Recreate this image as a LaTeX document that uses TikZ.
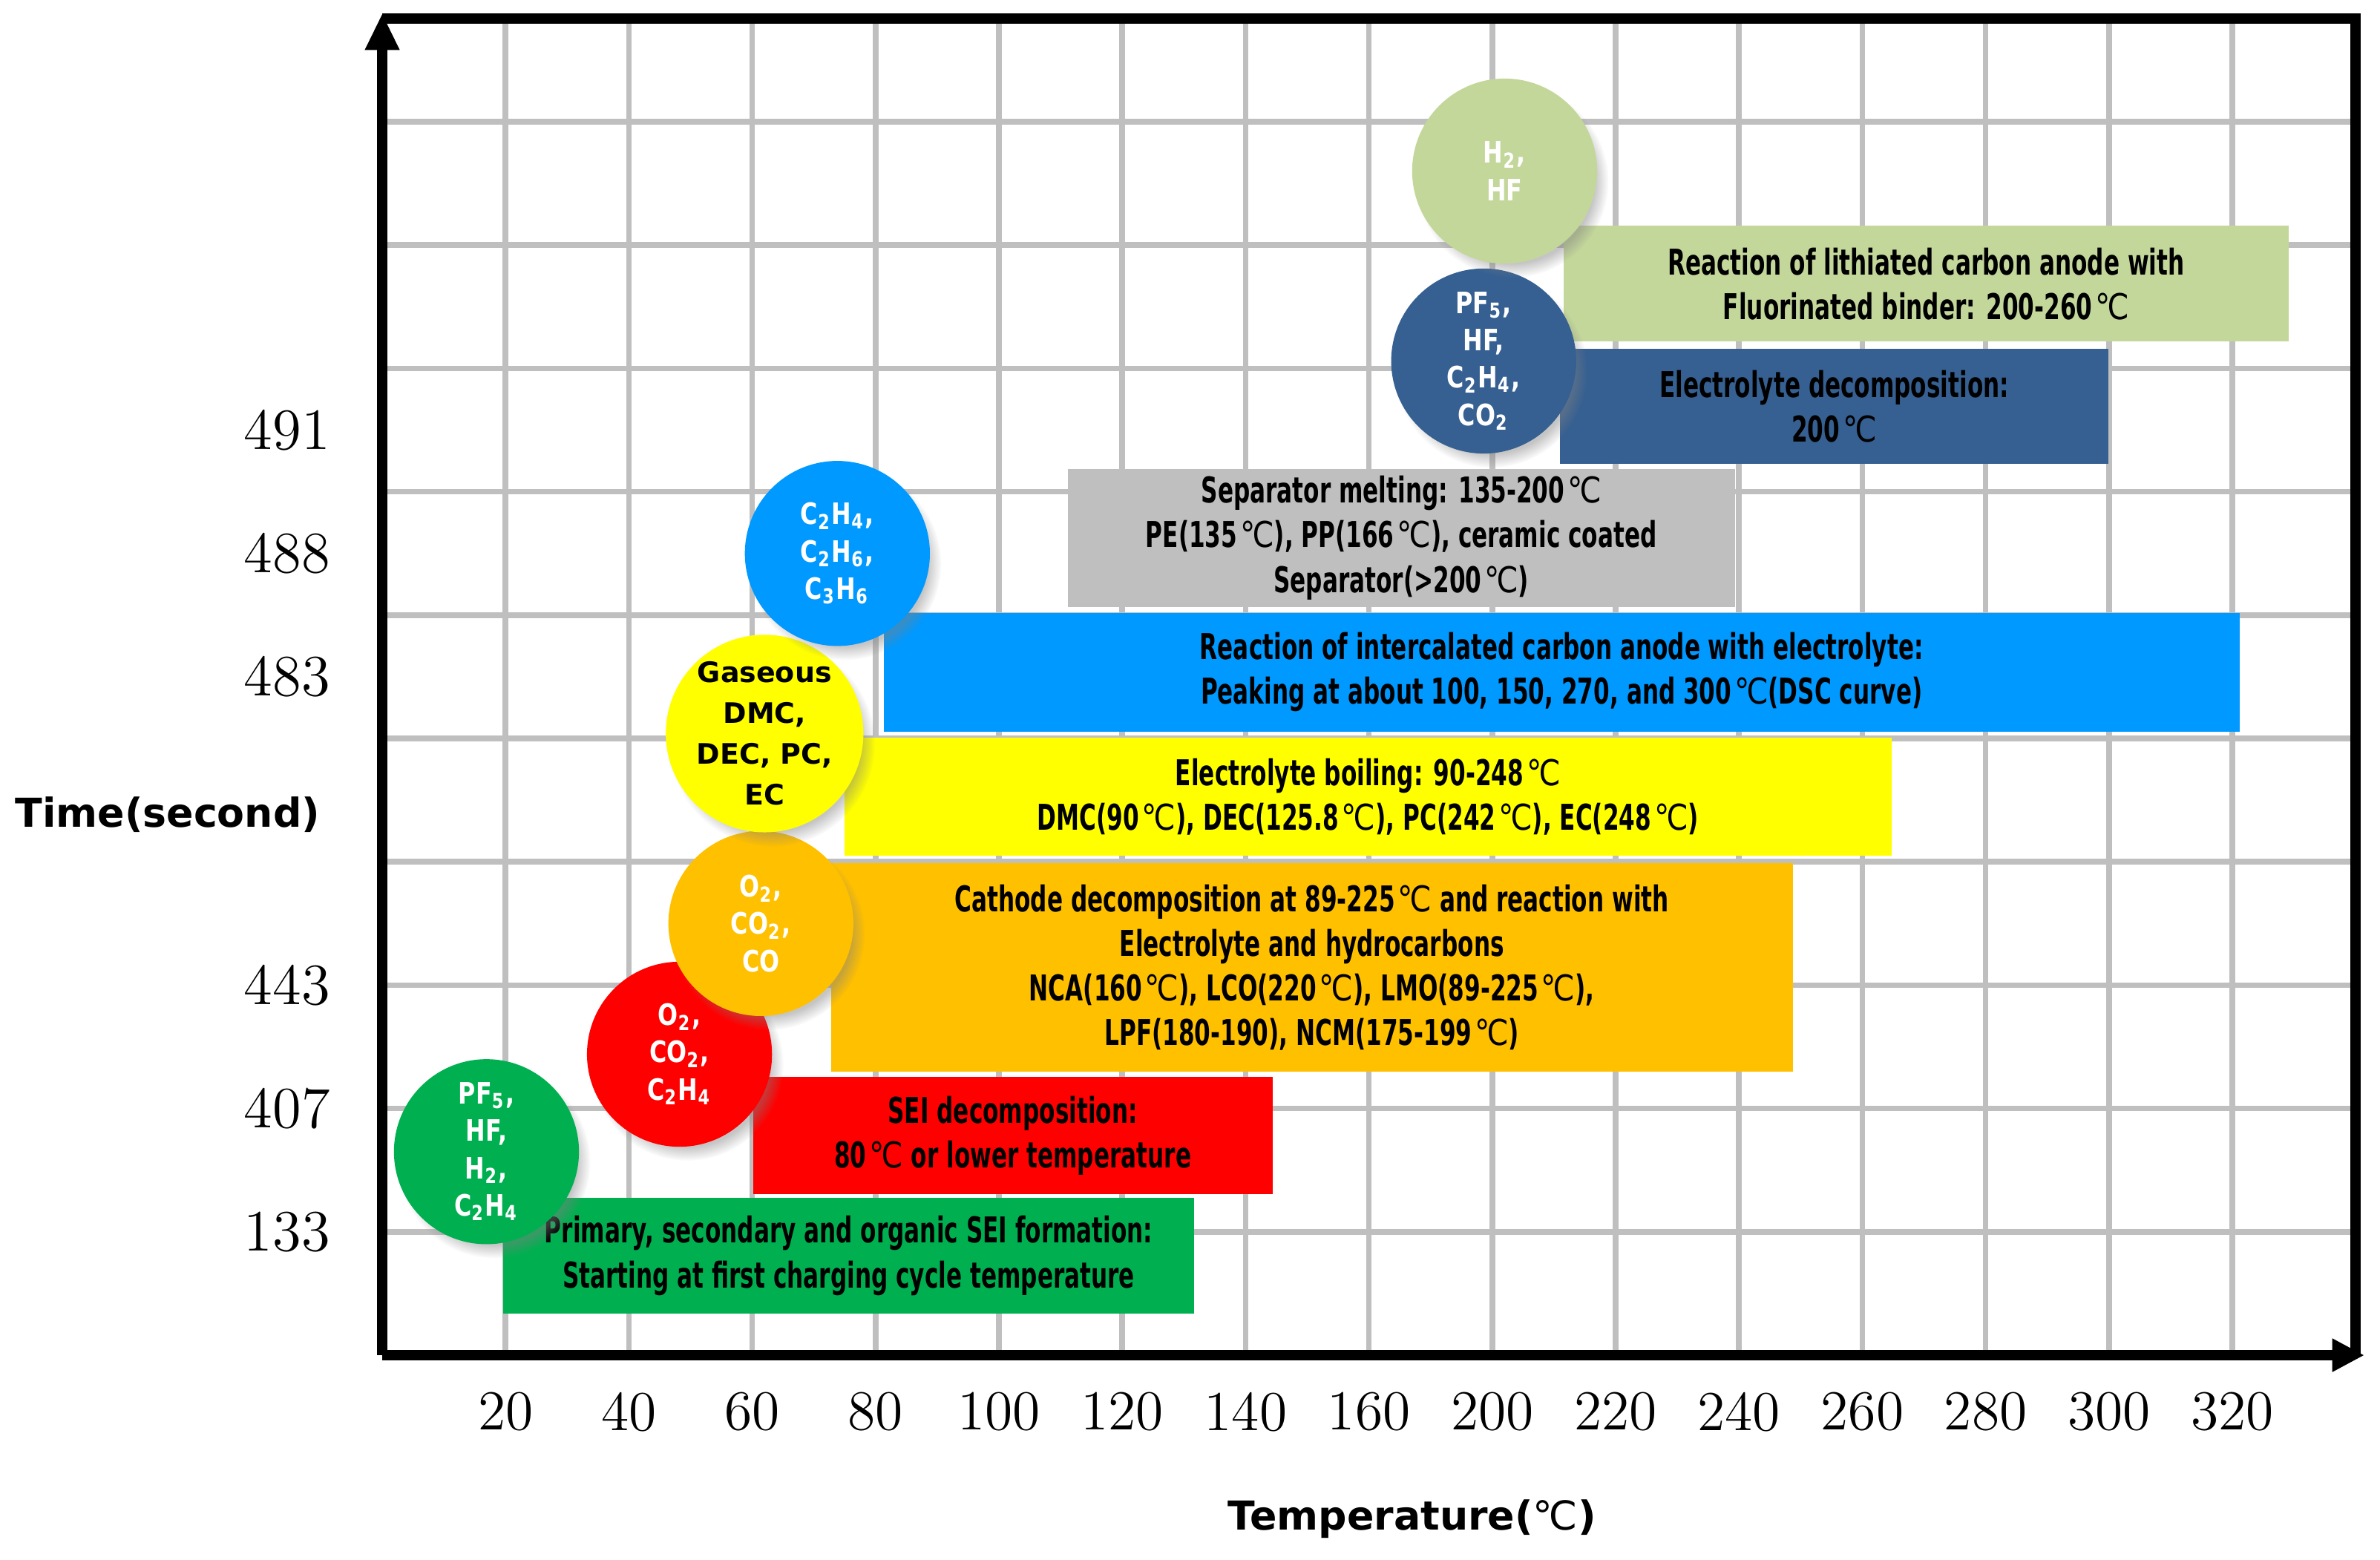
\documentclass[tikz,border=0pt]{standalone}
\usepackage{fontspec}
\usepackage{tikz}
\usetikzlibrary{arrows.meta,shadows,fadings}

\newfontfamily\boxfont{DejaVu Sans}[FakeStretch=0.65]
\newfontfamily\bubfont{DejaVu Sans}[FakeStretch=0.8]
\newfontfamily\labfont{DejaVu Sans}
\newfontfamily\degfont{DejaVu Sans}[FakeStretch=0.85]
\newcommand\dC{{\degfont\mdseries\kern0.08em ℃}}
\newcommand\sub[1]{\textsubscript{#1}}

\definecolor{gridgray}{RGB}{191,191,191}
\definecolor{seigreen}{RGB}{0,176,80}
\definecolor{seired}{RGB}{255,0,0}
\definecolor{cathorange}{RGB}{255,192,0}
\definecolor{boilyellow}{RGB}{255,255,0}
\definecolor{anodeblue}{RGB}{0,153,255}
\definecolor{sepgray}{RGB}{191,191,191}
\definecolor{elecblue}{RGB}{54,96,146}
\definecolor{bindgreen}{RGB}{196,215,155}

\begin{document}
\begin{tikzpicture}[
  gridline/.style={draw=gridgray,line width=1.3pt},
  axisline/.style={line width=2.4pt},
  box/.style={inner sep=0pt,anchor=south west,align=center,
    font=\boxfont\bfseries\fontsize{8.2}{10.3}\selectfont},
  bub/.style={circle,minimum size=1.5cm,inner sep=0pt,align=center,text=white,
    font=\bubfont\bfseries\fontsize{6.8}{8.6}\selectfont,
    circular drop shadow={shadow xshift=0.06cm,shadow yshift=-0.08cm,shadow scale=1.04,opacity=0.45}},
  xlab/.style={font=\fontsize{13}{15}\selectfont},
  ylab/.style={anchor=east,inner sep=0pt,font=\fontsize{13.5}{15}\selectfont},
  axlab/.style={font=\labfont\bfseries\fontsize{9.2}{11}\selectfont}
]
\useasboundingbox (-3.099,-1.660) rectangle (16.197,10.987);
\fill[white] (-3.099,-1.660) rectangle (16.197,10.987);

% grid
\foreach \i in {1,...,15} \draw[gridline] (\i,0) -- (\i,10.836);
\foreach \j in {1,...,10} \draw[gridline] (0,\j) -- (16,\j);

% frame and axes
\coordinate (o) at (0,0);
\coordinate (ytop) at (0,10.88);
\coordinate (tl) at (0,10.836);
\coordinate (tr) at (16,10.836);
\coordinate (br) at (16,0);
\coordinate (xend) at (16.07,0);
\draw[axisline] (tl) -- (tr) -- (br);
\draw[axisline,-{Triangle[width=7.4pt,length=8.5pt]}] (o) -- (ytop);
\draw[axisline,-{Triangle[width=7.2pt,length=7.4pt]}] (o) -- (xend);

% tick labels
\foreach \t [count=\i] in {20,40,60,80,100,120,140,160,200,220,240,260,280,300,320}
  \node[xlab] (x\i) at (\i,-0.46) {\t};
\foreach \y/\t in {7.5/491,6.5/488,5.5/483,3/443,2/407,1/133}
  \node[ylab] (y\t) at (-0.415,\y) {\t};
\node[axlab] (ytitle) at (-1.74,4.38) {Time(second)};
\node[axlab] (xtitle) at (8.35,-1.33) {Temperature({\mdseries ℃})};

% reaction boxes
\node[box,fill=seigreen,minimum width=5.60cm,minimum height=0.94cm] (form) at (0.975,0.33)
  {Primary, secondary and organic SEI formation:\\Starting at first charging cycle temperature};
\node[box,fill=seired,minimum width=4.21cm,minimum height=0.95cm] (seidec) at (3.0,1.30)
  {SEI decomposition:\\80\dC{} or lower temperature};
\node[box,fill=cathorange,minimum width=7.80cm,minimum height=1.69cm] (cath) at (3.63,2.29)
  {Cathode decomposition at 89-225\dC{} and reaction with\\Electrolyte and hydrocarbons\\NCA(160\dC), LCO(220\dC), LMO(89-225\dC),\\LPF(180-190), NCM(175-199\dC)};
\node[box,fill=boilyellow,minimum width=8.49cm,minimum height=0.96cm] (boil) at (3.74,4.04)
  {Electrolyte boiling: 90-248\dC\\DMC(90\dC), DEC(125.8\dC), PC(242\dC), EC(248\dC)};
\node[box,fill=anodeblue,minimum width=10.99cm,minimum height=0.96cm] (anode) at (4.06,5.05)
  {Reaction of intercalated carbon anode with electrolyte:\\Peaking at about 100, 150, 270, and 300\dC(DSC curve)};
\node[box,fill=sepgray,minimum width=5.41cm,minimum height=1.12cm] (sep) at (5.55,6.06)
  {Separator melting: 135-200\dC\\PE(135\dC), PP(166\dC), ceramic coated\\Separator(>200\dC)};
\node[box,fill=elecblue,minimum width=4.45cm,minimum height=0.93cm] (elec) at (9.54,7.22)
  {Electrolyte decomposition:\\200\dC};
\node[box,fill=bindgreen,minimum width=5.88cm,minimum height=0.94cm] (bind) at (9.57,8.21)
  {Reaction of lithiated carbon anode with\\Fluorinated binder: 200-260\dC};

% gas bubbles
\node[bub,fill=seigreen] (formgas) at (0.845,1.65) {PF\sub{5},\\HF,\\H\sub{2},\\C\sub{2}H\sub{4}};
\node[bub,fill=seired] (seigas) at (2.41,2.44) {O\sub{2},\\CO\sub{2},\\C\sub{2}H\sub{4}};
\node[bub,fill=cathorange] (cathgas) at (3.07,3.50) {O\sub{2},\\CO\sub{2},\\CO};
\node[bub,fill=boilyellow,text=black,font=\labfont\bfseries\fontsize{6.5}{9.4}\selectfont] (boilgas) at (3.10,5.04)
  {Gaseous\\DMC,\\DEC, PC,\\EC};
\node[bub,fill=anodeblue] (anodegas) at (3.69,6.50) {C\sub{2}H\sub{4},\\C\sub{2}H\sub{6},\\C\sub{3}H\sub{6}};
\node[bub,fill=elecblue] (elecgas) at (8.93,8.06) {PF\sub{5},\\HF,\\C\sub{2}H\sub{4},\\CO\sub{2}};
\node[bub,fill=bindgreen] (bindgas) at (9.10,9.60) {H\sub{2},\\HF};
\end{tikzpicture}
\end{document}
